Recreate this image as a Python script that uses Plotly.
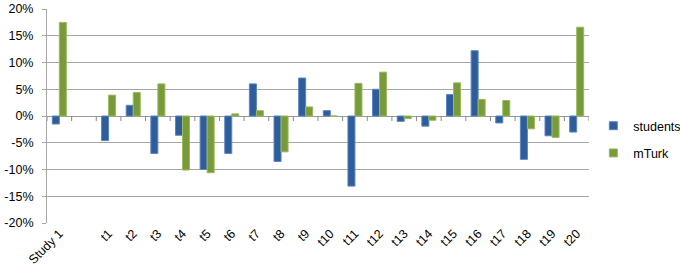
import plotly.graph_objects as go

categories = ["Study 1", " "] + [f"t{i}" for i in range(1, 21)]
students = [-1.5, None, -4.6, 2.0, -7.0, -3.6, -10.0, -7.0, 6.0, -8.5, 7.1, 1.0,
            -13.1, 5.0, -1.0, -1.9, 4.0, 12.2, -1.3, -8.1, -3.7, -3.0]
mturk = [17.5, None, 3.9, 4.4, 6.0, -10.1, -10.6, 0.4, 1.0, -6.7, 1.7, 0.0,
         6.1, 8.2, -0.5, -0.8, 6.2, 3.1, 2.9, -2.4, -4.0, 16.6]
y_ticks = [-20, -15, -10, -5, 0, 5, 10, 15, 20]

stud = [None if v is None else v / 100 for v in students]
mt = [None if v is None else v / 100 for v in mturk]

BLUE, BLUE_L = "#2F5D99", "#5A86C4"
GREEN, GREEN_L = "#779A3A", "#9BBB59"

fig = go.Figure()
fig.add_trace(go.Bar(x=categories, y=stud, name="students", showlegend=False,
                     marker=dict(color=BLUE, line=dict(color=BLUE_L, width=1))))
fig.add_trace(go.Bar(x=categories, y=mt, name="mTurk", showlegend=False,
                     marker=dict(color=GREEN, line=dict(color=GREEN_L, width=1))))
# legend entries (small square keys, as in the original)
fig.add_trace(go.Scatter(x=[None], y=[None], mode="markers", name="students",
                         legendgroup="a",
                         marker=dict(symbol="square", size=8, color=BLUE,
                                     line=dict(color=BLUE_L, width=1))))
fig.add_trace(go.Scatter(x=[None], y=[None], mode="markers", name="mTurk",
                         legendgroup="b",
                         marker=dict(symbol="square", size=8, color=GREEN,
                                     line=dict(color=GREEN_L, width=1))))

shapes = []
for i in range(len(categories) + 1):
    shapes.append(dict(type="line", xref="x", yref="y", x0=i - 0.5, x1=i - 0.5,
                       ysizemode="pixel", yanchor=0, y0=0, y1=-5,
                       line=dict(color="#8A8A8A", width=1)))

fig.update_layout(
    width=680, height=277,
    margin=dict(l=47, r=91, t=9, b=54, autoexpand=False),
    paper_bgcolor="white", plot_bgcolor="white",
    barmode="group", bargap=0.43, bargroupgap=0,
    font=dict(family="Liberation Sans, Arial", size=12, color="#000000"),
    showlegend=True,
    legend=dict(x=1.008, xanchor="left", y=0.523, yanchor="top",
                tracegroupgap=8, font=dict(size=12.5), itemwidth=30,
                borderwidth=0),
    shapes=shapes,
)
fig.update_xaxes(type="category", categoryorder="array", categoryarray=categories,
                 tickangle=-45, ticks="", showgrid=False, showline=False,
                 automargin=False, ticklabeloverflow="allow",
                 tickfont=dict(size=12.5), range=[-0.5, len(categories) - 0.5])
fig.update_yaxes(range=[-0.2, 0.2], tickvals=[v / 100 for v in y_ticks],
                 ticktext=[f"{v}%" for v in y_ticks], showgrid=True,
                 automargin=False, ticklabeloverflow="allow",
                 gridcolor="#A6A6A6", gridwidth=1, zeroline=True,
                 zerolinecolor="#9A9A9A", zerolinewidth=1,
                 showline=True, linecolor="#A6A6A6", linewidth=1,
                 ticks="outside", ticklen=4, tickcolor="#A6A6A6",
                 ticklabelstandoff=6,
                 tickfont=dict(size=12.5))

fig.write_html("out.html", config={"displayModeBar": False},
               post_script="document.body.style.margin='0';document.body.style.overflow='hidden';")
